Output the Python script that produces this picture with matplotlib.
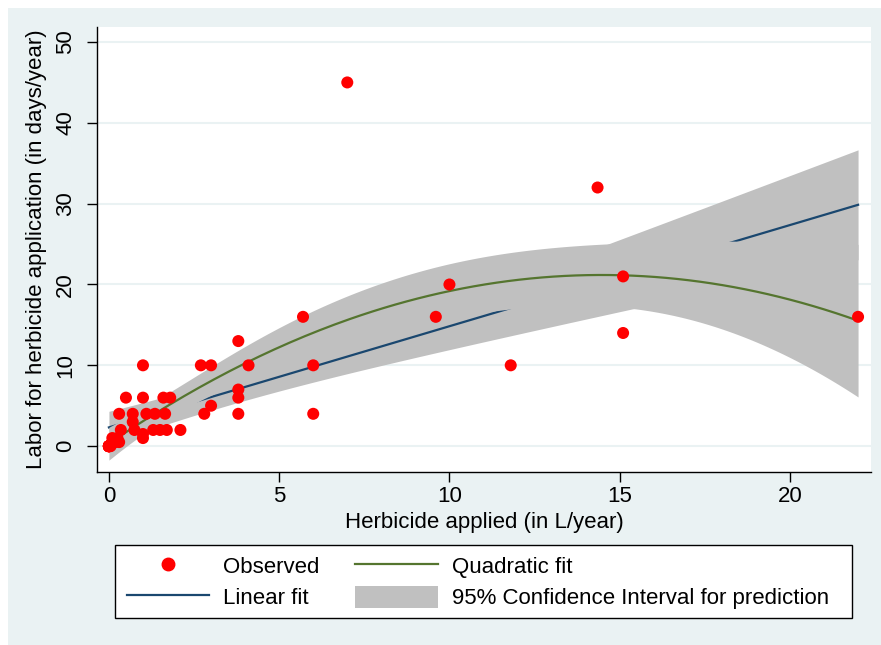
import numpy as np
import matplotlib
matplotlib.use("Agg")
import matplotlib.pyplot as plt
from matplotlib.patches import Rectangle, Patch
from matplotlib.lines import Line2D

plt.rcParams['font.family'] = ['Liberation Sans', 'DejaVu Sans']

herbicide = [0, 0, 0, 0, 0, 0, 0, 0, 0, 0, 0,
             0.05, 0.1, 0.2, 0.25, 0.3,
             0.3, 0.35, 0.5, 0.7, 0.7, 0.75,
             1, 1, 1, 1, 1.1, 1.35, 1.65, 1.3, 1.5, 1.7, 1.6, 1.8,
             2.1, 2.7, 3, 2.8, 3, 3.8, 3.8, 3.8, 3.8, 4.1,
             5.7, 6, 6, 7, 9.6, 10, 11.8, 14.35, 15.1, 15.1, 22]
labor = [0, 0, 0, 0, 0, 0, 0, 0, 0, 0, 0,
         0, 1, 0.5, 1, 0.5,
         4, 2, 6, 4, 3, 2,
         10, 6, 1.5, 1, 4, 4, 4, 2, 2, 2, 6, 6,
         2, 10, 10, 4, 5, 13, 7, 6, 4, 10,
         16, 10, 4, 45, 16, 20, 10, 32, 21, 14, 16]

x_ticks = [0, 5, 10, 15, 20]
y_ticks = [0, 10, 20, 30, 40, 50]
t_crit = 2.005

x = np.array(herbicide, dtype=float)
y = np.array(labor, dtype=float)
n = len(x)


# OLS fit of given degree plus 95% CI of the fitted mean (like lfitci/qfitci)
def fit_ci(deg, grid):
    X = np.vander(x, deg + 1, increasing=True)
    beta, *_ = np.linalg.lstsq(X, y, rcond=None)
    resid = y - X @ beta
    s2 = resid @ resid / (n - deg - 1)
    cov = s2 * np.linalg.inv(X.T @ X)
    G = np.vander(grid, deg + 1, increasing=True)
    pred = G @ beta
    se = np.sqrt(np.einsum('ij,jk,ik->i', G, cov, G))
    return pred, pred - t_crit * se, pred + t_crit * se


grid = np.linspace(x.min(), x.max(), 200)
lin, lin_lo, lin_hi = fit_ci(1, grid)
quad, q_lo, q_hi = fit_ci(2, grid)

W, H = 881, 645
fig = plt.figure(figsize=(W / 100, H / 100), dpi=100, facecolor='white')
fig.patches.append(Rectangle((8 / W, 0.0), 1 - 8 / W, 1 - 8 / H,
                             transform=fig.transFigure, facecolor='#eaf2f3',
                             edgecolor='none', zorder=-1))

ax = fig.add_axes([97 / W, 1 - 472 / H, 774 / W, 445 / H])
ax.set_facecolor('white')

gray = '#c0c0c0'
navy = '#1a476f'
green = '#55752f'

ax.fill_between(grid, lin_lo, lin_hi, color=gray, lw=0, zorder=1)
ax.plot(grid, lin, color=navy, lw=1.6, zorder=2)
ax.fill_between(grid, q_lo, q_hi, color=gray, lw=0, zorder=3)
ax.plot(grid, quad, color=green, lw=1.6, zorder=4)
ax.scatter(x, y, s=75, color='red', edgecolors='none', zorder=5)

ax.set_xlim(-0.35, 22.38)
ax.set_ylim(-3.2, 51.86)
ax.set_xticks(x_ticks)
ax.set_yticks(y_ticks)
ax.set_yticklabels([str(v) for v in y_ticks], rotation=90, va='center')
ax.grid(axis='y', color='#eaf2f3', lw=1.5, zorder=0)
ax.set_axisbelow(True)

for side in ['top', 'right']:
    ax.spines[side].set_visible(False)
for side in ['left', 'bottom']:
    ax.spines[side].set_color('black')
    ax.spines[side].set_linewidth(1.0)
ax.tick_params(axis='both', labelsize=16, length=7, width=1, color='black')
ax.tick_params(axis='y', pad=8)
ax.tick_params(axis='x', pad=3)

ax.set_xlabel('Herbicide applied (in L/year)', fontsize=16, labelpad=4)
ax.set_ylabel('Labor for herbicide application (in days/year)', fontsize=16, labelpad=6)

# legend box drawn separately so it can be wider than its contents
fig.patches.append(Rectangle((115 / W, 1 - 618 / H), 737 / W, 73 / H,
                             transform=fig.transFigure, facecolor='white',
                             edgecolor='black', lw=1.0, zorder=1))

handles = [
    Line2D([], [], ls='none', marker='o', color='red', markersize=9),
    Line2D([], [], color=navy, lw=1.6),
    Line2D([], [], color=green, lw=1.6),
    Patch(facecolor=gray, edgecolor='none'),
]
labels = ['Observed', 'Linear fit', 'Quadratic fit',
          '95% Confidence Interval for prediction']
leg = fig.legend(handles, labels, ncol=2, loc='center',
                 bbox_to_anchor=(478 / W, 1 - 582 / H),
                 fontsize=16, frameon=False, handlelength=3.7,
                 handleheight=1.1, handletextpad=0.65, columnspacing=1.6,
                 labelspacing=0.38, borderpad=0.4)
leg.set_zorder(2)

fig.savefig('out.png', dpi=100, facecolor=fig.get_facecolor())
